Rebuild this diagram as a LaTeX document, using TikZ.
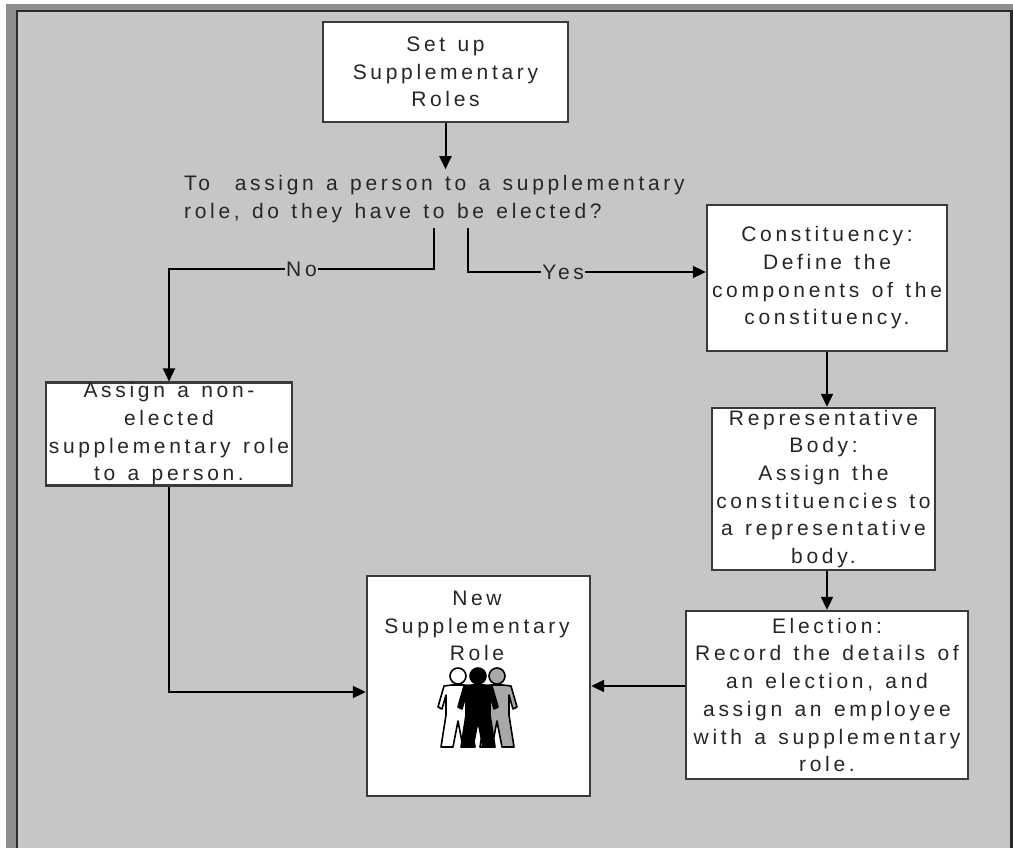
\documentclass[tikz,border=0pt]{standalone}
\usepackage{fontspec}
\setmainfont{Liberation Sans}[LetterSpace=17.5, WordSpace=1.3]
\usetikzlibrary{arrows.meta}
\definecolor{bggray}{HTML}{C6C6C6}
\definecolor{bandgray}{HTML}{8E8E8E}
\definecolor{framedark}{HTML}{2A2A2A}
\definecolor{boxline}{HTML}{3A3A3A}
\definecolor{txt}{HTML}{262626}
\definecolor{persongray}{HTML}{A8A8A8}
\tikzset{
  boxnode/.style={draw=boxline, line width=2.4pt, fill=white, align=center, inner sep=0pt, text=txt,
    font=\fontsize{21pt}{27.7pt}\selectfont},
  textnode/.style={align=center, inner sep=0pt, text=txt, font=\fontsize{21pt}{27.7pt}\selectfont},
  lab/.style={fill=bggray, inner xsep=1.5pt, inner ysep=1pt, text=txt, font=\fontsize{21pt}{27.7pt}\selectfont},
  arr/.style={draw=black, line width=2pt, -{Triangle[length=13pt,width=12pt]}},
  person/.pic={
    \filldraw[line width=1.6pt, line join=round] (0,-9) circle (8);
    \filldraw[line width=1.6pt, line join=round] (-6,0) -- (-14,1) -- (-20,22) -- (-16,24) -- (-12,10)
      -- (-12,30) -- (-17,62) -- (-5,62) -- (0,36) -- (5,62) -- (17,62) -- (12,30) -- (12,10)
      -- (16,24) -- (20,22) -- (14,1) -- (6,0) -- cycle;
  }
}
\begin{document}
\begin{tikzpicture}[x=1pt,y=-1pt]
\useasboundingbox (0,0) rectangle (1013,848);
% frame
\fill[white] (0,0) rectangle (1013,848);
\fill[bandgray] (6,4) rectangle (1013,860);
\filldraw[fill=bggray, draw=framedark, line width=2.5pt] (17,11) rectangle (1011.5,880);

% boxes
\node[boxnode, minimum width=245pt, minimum height=100pt] (setup) at (445.5,72) {Set up\\Supplementary\\Roles};
\node[textnode, align=left, anchor=north west, inner ysep=6pt] (q) at (184,169.2)
  {To~~assign a person to a supplementary\\role, do they have to be elected?};
\node[boxnode, minimum width=240pt, minimum height=146pt] (cons) at (827,278)
  {Constituency:\\Define the\\components of the\\constituency.};
\node[boxnode, minimum width=223pt, minimum height=162pt] (rep) at (823.5,489)
  {Representative\\Body:\\Assign the\\constituencies to\\a representative\\body.};
\node[boxnode, minimum width=282pt, minimum height=168pt] (elec) at (827,695)
  {Election:\\Record the details of\\an election, and\\assign an employee\\with a supplementary\\role.};
\node[boxnode, minimum width=246pt, minimum height=100pt] (assign) at (169,434)
  {Assign a non-\\elected\\supplementary role\\to a person.};
\node[boxnode, minimum width=223pt, minimum height=220pt] (newbox) at (478.5,686) {};
\node[textnode] (newlbl) at (477,626) {New\\Supplementary\\Role};

% people icon
\pic[fill=white, draw=black] at (458,685) {person};
\pic[fill=persongray, draw=black] at (497,685) {person};
\pic[fill=black, draw=black] at (478,685) {person};

% connectors
\coordinate (nos) at (434,228);
\coordinate (nob) at (434,269);
\coordinate (yess) at (468,228);
\draw[arr] (setup.south) -- (setup.south |- q.north);
\draw[arr] (nos) -- (nob) -| node[lab, pos=0.25] {No} (assign.north);
\draw[arr] (yess) |- node[lab, pos=0.7] {Yes} ([yshift=6pt]cons.west);
\draw[arr] (cons.south) -- (cons.south |- rep.north);
\draw[arr] (elec.north |- rep.south) -- (elec.north);
\draw[arr] (elec.west |- newbox.east) -- (newbox.east);
\draw[arr] (assign.south) |- ([yshift=-6pt]newbox.west);
\end{tikzpicture}
\end{document}
